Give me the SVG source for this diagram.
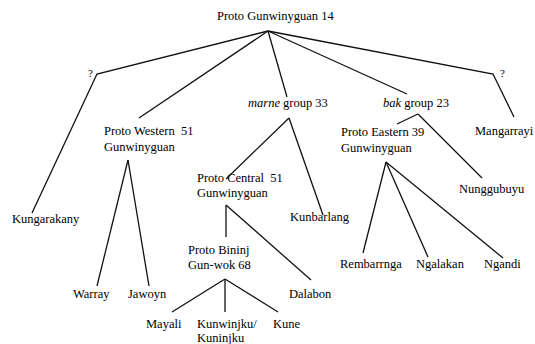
<svg xmlns="http://www.w3.org/2000/svg" width="535" height="344" viewBox="0 0 535 344">
<style>
text{font-family:"Liberation Serif","Times New Roman",serif;font-size:12.5px;fill:#000}
.q{font-size:11px}
.it{font-style:italic}
.e line,.e polyline{stroke:#111;stroke-width:1.3;fill:none}
</style>
<rect width="535" height="344" fill="#fff"/>
<g class="e" id="connectors">
<polyline points="268,31 97,74 32,213"/>
<line x1="268" y1="31" x2="139" y2="118"/>
<line x1="268" y1="31" x2="287" y2="97"/>
<line x1="268" y1="31" x2="407" y2="94"/>
<polyline points="268,31 493,74 514,117"/>
<line x1="128" y1="160" x2="97" y2="286"/>
<line x1="128" y1="160" x2="149" y2="286"/>
<line x1="289" y1="118" x2="226" y2="179"/>
<line x1="289" y1="118" x2="323" y2="215"/>
<line x1="226" y1="205" x2="226" y2="237"/>
<line x1="226" y1="205" x2="311" y2="280"/>
<line x1="225" y1="279" x2="172" y2="312"/>
<line x1="225" y1="279" x2="225" y2="312"/>
<line x1="225" y1="279" x2="278" y2="312"/>
<line x1="418" y1="114" x2="397" y2="124"/>
<line x1="418" y1="114" x2="482" y2="178"/>
<line x1="386" y1="162" x2="363" y2="253"/>
<line x1="386" y1="162" x2="428" y2="257"/>
<line x1="386" y1="162" x2="503" y2="258"/>
</g>
<g id="root"><text x="217" y="20">Proto Gunwinyguan 14</text></g>
<g id="q-left"><text class="q" x="88" y="77">?</text></g>
<g id="q-right"><text class="q" x="500" y="77">?</text></g>
<g id="kungarakany"><text x="12" y="223">Kungarakany</text></g>
<g id="proto-western"><text x="104" y="135" xml:space="preserve">Proto Western  51</text><text x="104" y="151">Gunwinyguan</text></g>
<g id="warray"><text x="73" y="298">Warray</text></g>
<g id="jawoyn"><text x="128" y="298">Jawoyn</text></g>
<g id="marne"><text x="248" y="107"><tspan class="it">marne</tspan> group 33</text></g>
<g id="proto-central"><text x="197" y="182" xml:space="preserve">Proto Central  51</text><text x="197" y="197">Gunwinyguan</text></g>
<g id="kunbarlang"><text x="290" y="221">Kunbarlang</text></g>
<g id="proto-bininj"><text x="188" y="254">Proto Bininj</text><text x="188" y="269">Gun-wok 68</text></g>
<g id="dalabon"><text x="289" y="298">Dalabon</text></g>
<g id="mayali"><text x="146" y="328">Mayali</text></g>
<g id="kunwinjku"><text x="197" y="328">Kunwinjku/</text><text x="197" y="342">Kuninjku</text></g>
<g id="kune"><text x="273" y="328">Kune</text></g>
<g id="bak"><text x="383" y="107"><tspan class="it">bak</tspan> group 23</text></g>
<g id="proto-eastern"><text x="341" y="136">Proto Eastern 39</text><text x="341" y="152">Gunwinyguan</text></g>
<g id="mangarrayi"><text x="475" y="135">Mangarrayi</text></g>
<g id="nunggubuyu"><text x="459" y="193">Nunggubuyu</text></g>
<g id="rembarrnga"><text x="340" y="268">Rembarrnga</text></g>
<g id="ngalakan"><text x="416" y="268">Ngalakan</text></g>
<g id="ngandi"><text x="484" y="268">Ngandi</text></g>
</svg>
